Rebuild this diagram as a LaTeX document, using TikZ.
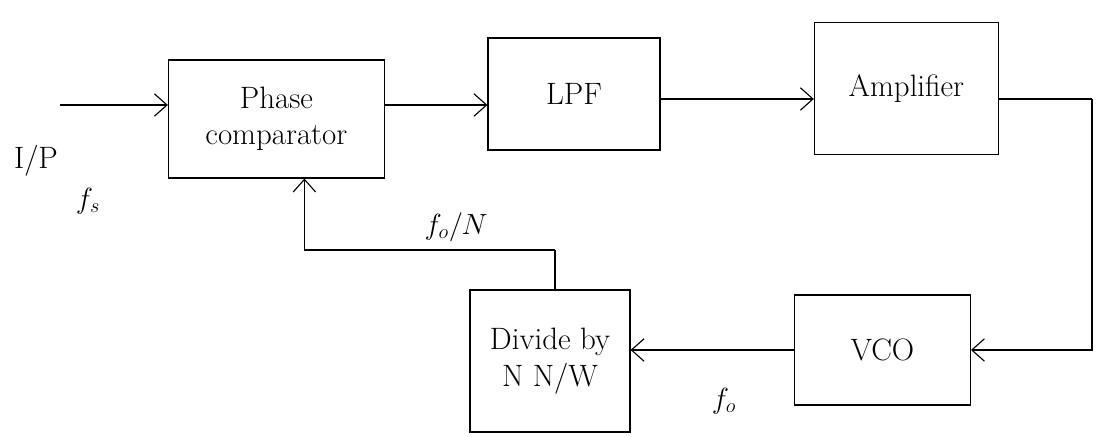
\documentclass[tikz,border=0pt]{standalone}
\usepackage{amsmath,amssymb}
\usepackage{tikz}
\usetikzlibrary{positioning,arrows.meta,calc}
\usepackage{xcolor}

\begin{document}
\begin{tikzpicture}[x=1cm,y=1cm,every node/.style={font=\fontsize{22}{26}\selectfont},
  blk/.style={draw,thick,align=center,inner sep=2pt},
  wire/.style={thick},
  arr/.style={thick,-{Straight Barb[length=9pt,width=16pt]}}]
\useasboundingbox (0,0) rectangle (27.725,10.925);
\node[blk,minimum width=5.4cm,minimum height=2.95cm] (cmp) at (6.91,7.95) {Phase\\comparator};
\node[blk,minimum width=4.3cm,minimum height=2.8cm] (lpf) at (14.35,8.575) {LPF};
\node[blk,minimum width=4.6cm,minimum height=3.3cm] (amp) at (22.66,8.71) {Amplifier};
\node[blk,minimum width=4.4cm,minimum height=2.75cm] (vco) at (22.06,2.175) {VCO};
\node[blk,minimum width=4.0cm,minimum height=3.55cm] (div) at (13.75,1.9) {Divide by\\N N/W};
\coordinate (in) at (1.5,8.3);
\coordinate (turn) at (27.3,8.45);
\coordinate (fb) at (13.875,4.675);
\node (ip) at (0.9,6.9) {I/P};
\node (fs) at (2.2,5.9) {$f_s$};
\node (fon) at (11.4,5.25) {$f_o/N$};
\node (fo) at (18.1,0.9) {$f_o$};
\draw[arr] (in) -- (cmp.west|-in);
\draw[arr] (cmp.east|-0,8.3) -- (lpf.west|-0,8.3);
\draw[arr] (lpf.east|-0,8.45) -- (amp.west|-0,8.45);
\draw[wire] (amp.east|-turn) -- (turn);
\draw[arr] (turn) |- (vco.east);
\draw[arr] (vco.west) -- (div.east|-vco.west);
\draw[wire] (div.north-|fb) -- (fb);
\draw[arr] (fb) -| ($(cmp.south)+(0.7,0)$);
\end{tikzpicture}
\end{document}
